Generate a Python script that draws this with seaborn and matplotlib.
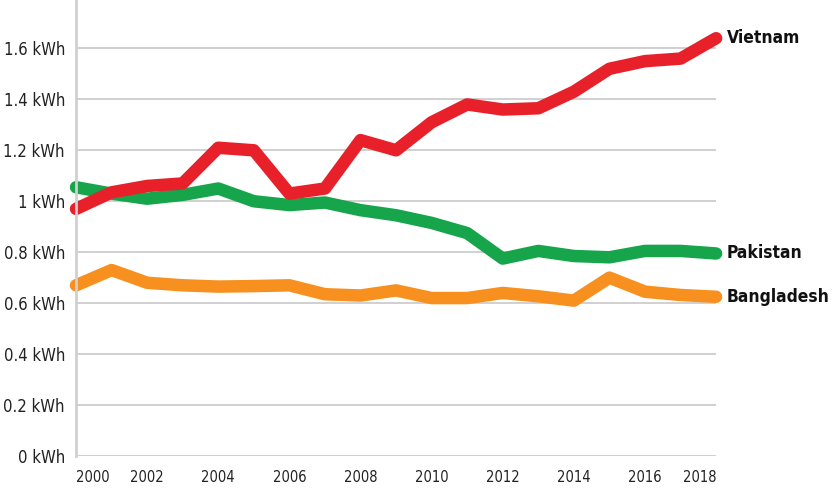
import matplotlib
matplotlib.use('Agg')
import matplotlib.pyplot as plt
import seaborn as sns
import pandas as pd

# ── Data: per-capita electricity use (kWh) ───────────────────
years = list(range(2000, 2019))
vietnam = [0.97, 1.035, 1.06, 1.07, 1.21, 1.20, 1.03, 1.05, 1.24, 1.20,
           1.31, 1.38, 1.36, 1.365, 1.43, 1.52, 1.55, 1.56, 1.64]
pakistan = [1.055, 1.03, 1.01, 1.025, 1.05, 1.00, 0.985, 0.995, 0.965, 0.945,
            0.915, 0.875, 0.775, 0.805, 0.785, 0.78, 0.805, 0.805, 0.795]
bangladesh = [0.67, 0.73, 0.68, 0.67, 0.665, 0.667, 0.67, 0.635, 0.63, 0.65,
              0.62, 0.62, 0.64, 0.627, 0.61, 0.70, 0.645, 0.632, 0.625]
countries = ['Vietnam', 'Pakistan', 'Bangladesh']
y_ticks = [0, 0.2, 0.4, 0.6, 0.8, 1.0, 1.2, 1.4, 1.6]
y_labels = ['0 kWh', '0.2 kWh', '0.4 kWh', '0.6 kWh', '0.8 kWh',
            '1 kWh', '1.2 kWh', '1.4 kWh', '1.6 kWh']
x_ticks = list(range(2000, 2019, 2))

COLORS = {'Vietnam': '#e8202a', 'Pakistan': '#16a54b', 'Bangladesh': '#f7901e'}

df = pd.DataFrame({
    'year': years * 3,
    'kwh': vietnam + pakistan + bangladesh,
    'country': [c for c in countries for _ in years],
})

sns.set_style('white')
plt.rcParams['font.family'] = ['DejaVu Sans']
plt.rcParams['font.stretch'] = 'condensed'

fig = plt.figure(figsize=(8.4, 5.0), dpi=100)
ax = fig.add_axes([0.0905, 0.088, 0.762, 0.912])

ax.set_axisbelow(True)
for yt in y_ticks:
    ax.axhline(yt, color='#d0d0d0', lw=1.4, zorder=0)

sns.lineplot(data=df, x='year', y='kwh', hue='country', palette=COLORS,
             hue_order=['Bangladesh', 'Pakistan', 'Vietnam'],
             lw=9, legend=False, ax=ax, clip_on=False,
             solid_capstyle='round', solid_joinstyle='round')

# End-of-line labels
for name, series in zip(countries, [vietnam, pakistan, bangladesh]):
    ax.text(years[-1] + 0.3, series[-1], name, fontsize=12.5,
            fontweight='bold', va='center', ha='left', color='#111111')

ax.set_xlim(2000, 2018)
ax.set_ylim(0, 1.79)
ax.set_yticks(y_ticks)
ax.set_yticklabels(y_labels, fontsize=12, color='#222222')
ax.set_xticks(x_ticks)
ax.set_xticklabels([str(x) for x in x_ticks], fontsize=10.5, color='#222222')
labels = ax.get_xticklabels()
labels[0].set_horizontalalignment('left')
labels[-1].set_horizontalalignment('right')
ax.tick_params(axis='x', direction='in', length=6, color='#d0d0d0', width=1.4, pad=10)
ax.tick_params(axis='y', length=0, pad=8)
ax.set_xlabel('')
ax.set_ylabel('')

for side in ['top', 'right', 'bottom']:
    ax.spines[side].set_visible(False)
ax.spines['left'].set_color('#d0d0d0')
ax.spines['left'].set_linewidth(2)

fig.savefig('out.png', dpi=100)
